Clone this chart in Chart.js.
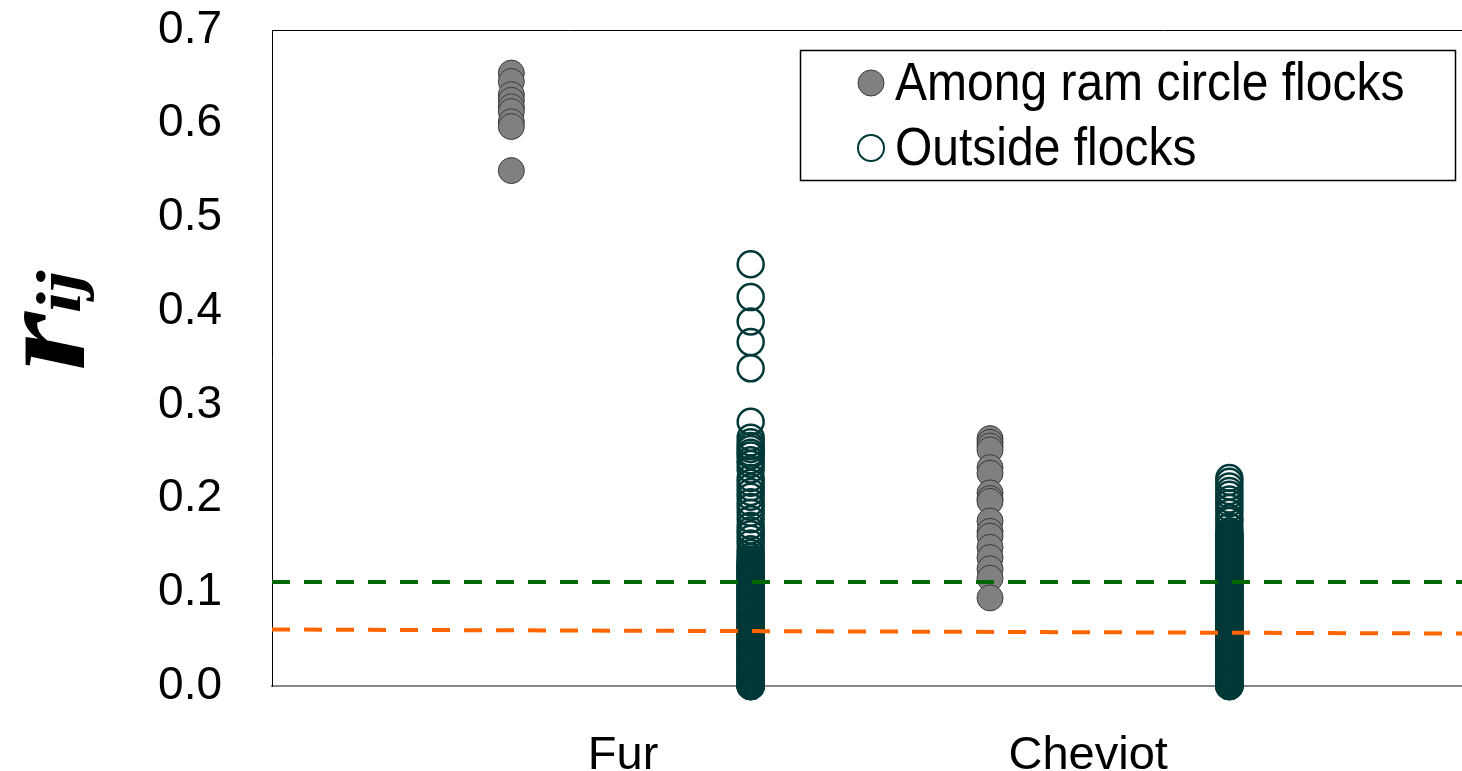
<!DOCTYPE html>
<html>
<head>
<meta charset="utf-8">
<script src="https://cdn.jsdelivr.net/npm/chart.js@4.4.1/dist/chart.umd.min.js"></script>
<style>
  html, body { margin: 0; padding: 0; background: #ffffff; overflow: hidden; }
  canvas { display: block; }
</style>
</head>
<body>
<canvas id="chart" width="1462" height="771"></canvas>
<script>
// Breeds along the x axis and the two kinds of pairwise comparison
const categories = ['Fur', 'Cheviot'];
const seriesNames = ['Among ram circle flocks', 'Outside flocks'];
const yTickLabels = ['0.0', '0.1', '0.2', '0.3', '0.4', '0.5', '0.6', '0.7'];

// Pairwise relatedness (r_ij) values
const furAmong = [0.654, 0.645, 0.631, 0.625, 0.618, 0.613, 0.602, 0.597, 0.550];
const furOutside = [
  0.450, 0.415, 0.389, 0.367, 0.339, 0.282,
  0.265, 0.260, 0.256, 0.253, 0.249, 0.246, 0.241, 0.237, 0.231, 0.222,
  0.217, 0.212, 0.207, 0.202, 0.196, 0.191, 0.185, 0.178, 0.171, 0.166,
  0.162, 0.157, 0.152, 0.146, 0.142, 0.138, 0.135, 0.133,
  0.131, 0.130, 0.128, 0.127, 0.126, 0.124, 0.123, 0.122, 0.120, 0.119,
  0.118, 0.116, 0.115, 0.113, 0.112, 0.111, 0.109, 0.108, 0.107, 0.105,
  0.104, 0.102, 0.101, 0.100, 0.098, 0.097, 0.096, 0.094, 0.093, 0.091,
  0.090, 0.089, 0.087, 0.086, 0.085, 0.083, 0.082, 0.080, 0.079, 0.078,
  0.076, 0.075, 0.074, 0.072, 0.071, 0.069, 0.068, 0.067, 0.065, 0.064,
  0.063, 0.061, 0.060, 0.058, 0.057, 0.056, 0.054, 0.053, 0.052, 0.050,
  0.049, 0.047, 0.046, 0.045, 0.043, 0.042, 0.041, 0.039, 0.038, 0.036,
  0.035, 0.034, 0.032, 0.031, 0.030, 0.028, 0.027, 0.025, 0.024, 0.023,
  0.021, 0.020, 0.019, 0.017, 0.016, 0.014, 0.013, 0.012, 0.010, 0.009,
  0.008, 0.006, 0.005, 0.003, 0.002, 0.001, 0.000, 0.000, 0.000, 0.000
];
const cheviotAmong = [
  0.264, 0.260, 0.256, 0.252, 0.233, 0.227, 0.206, 0.200, 0.197,
  0.176, 0.165, 0.160, 0.148, 0.137, 0.125, 0.115, 0.094
];
const cheviotOutside = [
  0.222, 0.218, 0.213, 0.208, 0.204, 0.199, 0.195, 0.190, 0.185, 0.179,
  0.176, 0.170, 0.165, 0.163, 0.161, 0.159, 0.158, 0.156, 0.155, 0.153,
  0.152, 0.150, 0.149, 0.147, 0.146, 0.144, 0.143, 0.141, 0.140, 0.138,
  0.137, 0.135, 0.134, 0.132, 0.131, 0.129, 0.128, 0.126, 0.125, 0.123,
  0.122, 0.120, 0.119, 0.117, 0.116, 0.114, 0.113, 0.111, 0.110, 0.108,
  0.107, 0.105, 0.104, 0.102, 0.101, 0.099, 0.098, 0.096, 0.095, 0.093,
  0.092, 0.090, 0.089, 0.087, 0.086, 0.084, 0.083, 0.081, 0.080, 0.078,
  0.077, 0.075, 0.074, 0.072, 0.071, 0.069, 0.068, 0.066, 0.065, 0.063,
  0.062, 0.060, 0.059, 0.057, 0.056, 0.054, 0.053, 0.051, 0.050, 0.048,
  0.047, 0.045, 0.044, 0.042, 0.041, 0.039, 0.038, 0.036, 0.035, 0.033,
  0.032, 0.030, 0.029, 0.027, 0.026, 0.024, 0.023, 0.021, 0.020, 0.018,
  0.017, 0.015, 0.014, 0.012, 0.011, 0.009, 0.008, 0.006, 0.005, 0.003,
  0.002, 0.001, 0.000, 0.000, 0.000, 0.000
];

// Dashed reference levels, given at the left and right ends of the plot
const upperLevel = [0.111, 0.111];
const lowerLevel = [0.0603, 0.0560];

// Layout of the horizontal axis
const X_MAX = 4.972;
const columnX = { furAmong: 1, furOutside: 2, cheviotAmong: 3, cheviotOutside: 4 };
const categoryTickX = [1.467, 3.41];

const FONT = '"Liberation Sans", Arial, sans-serif';
const SERIF = '"Liberation Serif", "Times New Roman", serif';
const AMONG_FILL = '#808080';
const AMONG_EDGE = '#3a3a3a';
const OUTSIDE_EDGE = '#013838';

const toPoints = (values, x) => values.map(v => ({ x: x, y: v }));

// Plot frame: top edge of the box (left edge is the y axis border)
const framePlugin = {
  id: 'frame',
  afterDraw(chart) {
    const { ctx, chartArea: a } = chart;
    ctx.save();
    ctx.strokeStyle = '#000';
    ctx.lineWidth = 1;
    ctx.beginPath();
    ctx.moveTo(a.left, a.top + 0.5);
    ctx.lineTo(a.right, a.top + 0.5);
    ctx.stroke();
    ctx.restore();
  }
};

// Boxed legend in the top-right corner of the plot
const legendBoxPlugin = {
  id: 'legendBox',
  afterDraw(chart) {
    const { ctx } = chart;
    ctx.save();
    ctx.fillStyle = '#fff';
    ctx.fillRect(800, 50, 655, 130);
    ctx.strokeStyle = '#000';
    ctx.lineWidth = 1.5;
    ctx.strokeRect(800.5, 50.5, 655, 130);

    const rows = [
      { y: 83, fill: AMONG_FILL, edge: AMONG_EDGE, lw: 1 },
      { y: 148, fill: null, edge: OUTSIDE_EDGE, lw: 2 }
    ];
    rows.forEach((r, i) => {
      ctx.beginPath();
      ctx.arc(871, r.y, 13, 0, Math.PI * 2);
      if (r.fill) { ctx.fillStyle = r.fill; ctx.fill(); }
      ctx.strokeStyle = r.edge;
      ctx.lineWidth = r.lw;
      ctx.stroke();
      ctx.save();
      ctx.translate(895, r.y + 2);
      ctx.scale(1, 1.1);
      ctx.fillStyle = '#000';
      ctx.font = '48px ' + FONT;
      ctx.textBaseline = 'middle';
      ctx.textAlign = 'left';
      ctx.fillText(seriesNames[i], 0, 0);
      ctx.restore();
    });
    ctx.restore();
  }
};

// Rotated y-axis title: r with subscript ij
const yTitlePlugin = {
  id: 'yTitle',
  afterDraw(chart) {
    const { ctx } = chart;
    ctx.save();
    ctx.translate(84, 371);
    ctx.scale(1, 1.2);
    ctx.rotate(-Math.PI / 2);
    ctx.fillStyle = '#000';
    ctx.textAlign = 'left';
    ctx.textBaseline = 'alphabetic';
    ctx.font = 'italic bold 126px ' + SERIF;
    ctx.fillText('r', 0, 0);
    const w = ctx.measureText('r').width;
    ctx.font = 'italic bold 64px ' + SERIF;
    ctx.fillText('ij', w - 1, -4);
    ctx.restore();
  }
};

new Chart(document.getElementById('chart'), {
  type: 'scatter',
  data: {
    datasets: [
      {
        label: 'Upper level',
        data: [{ x: 0, y: upperLevel[0] }, { x: X_MAX, y: upperLevel[1] }],
        showLine: true,
        borderColor: '#006600',
        borderWidth: 4,
        borderDash: [18, 14],
        pointRadius: 0,
        order: 0
      },
      {
        label: 'Lower level',
        data: [{ x: 0, y: lowerLevel[0] }, { x: X_MAX, y: lowerLevel[1] }],
        showLine: true,
        borderColor: '#ff6600',
        borderWidth: 4,
        borderDash: [18, 14],
        pointRadius: 0,
        order: 0
      },
      {
        label: seriesNames[0],
        data: toPoints(furAmong, columnX.furAmong).concat(toPoints(cheviotAmong, columnX.cheviotAmong)),
        pointRadius: 13,
        pointBackgroundColor: AMONG_FILL,
        pointBorderColor: AMONG_EDGE,
        pointBorderWidth: 1,
        clip: false,
        order: 2
      },
      {
        label: seriesNames[1],
        data: toPoints(furOutside, columnX.furOutside).concat(toPoints(cheviotOutside, columnX.cheviotOutside)),
        pointRadius: 13,
        pointBackgroundColor: 'rgba(0,0,0,0)',
        pointBorderColor: OUTSIDE_EDGE,
        pointBorderWidth: 2.5,
        clip: false,
        order: 1
      }
    ]
  },
  options: {
    responsive: false,
    animation: false,
    events: [],
    layout: { autoPadding: false, padding: { top: 30, left: 0, right: 0, bottom: 0 } },
    plugins: {
      legend: { display: false },
      tooltip: { enabled: false }
    },
    scales: {
      x: {
        type: 'linear',
        min: 0,
        max: X_MAX,
        grid: { display: false },
        border: { display: true, color: '#888888', width: 2 },
        ticks: {
          autoSkip: false,
          maxRotation: 0,
          padding: 34,
          color: '#000',
          font: { family: FONT, size: 47 },
          callback: (v, i) => categories[i]
        },
        afterBuildTicks: axis => { axis.ticks = categoryTickX.map(v => ({ value: v })); },
        afterFit: scale => {
          scale.height = 85;
          scale.paddingLeft = 0;
          scale.paddingRight = 0;
        }
      },
      y: {
        min: 0,
        max: 0.7,
        grid: { display: false },
        border: { display: true, color: '#000', width: 1 },
        ticks: {
          padding: 42,
          color: '#000',
          font: { family: FONT, size: 46 },
          callback: (v, i) => yTickLabels[i]
        },
        afterBuildTicks: axis => { axis.ticks = yTickLabels.map(t => ({ value: parseFloat(t) })); },
        afterFit: scale => {
          scale.width = 272;
          scale.paddingTop = 0;
          scale.paddingBottom = 0;
        }
      }
    }
  },
  plugins: [framePlugin, legendBoxPlugin, yTitlePlugin]
});
</script>
</body>
</html>
